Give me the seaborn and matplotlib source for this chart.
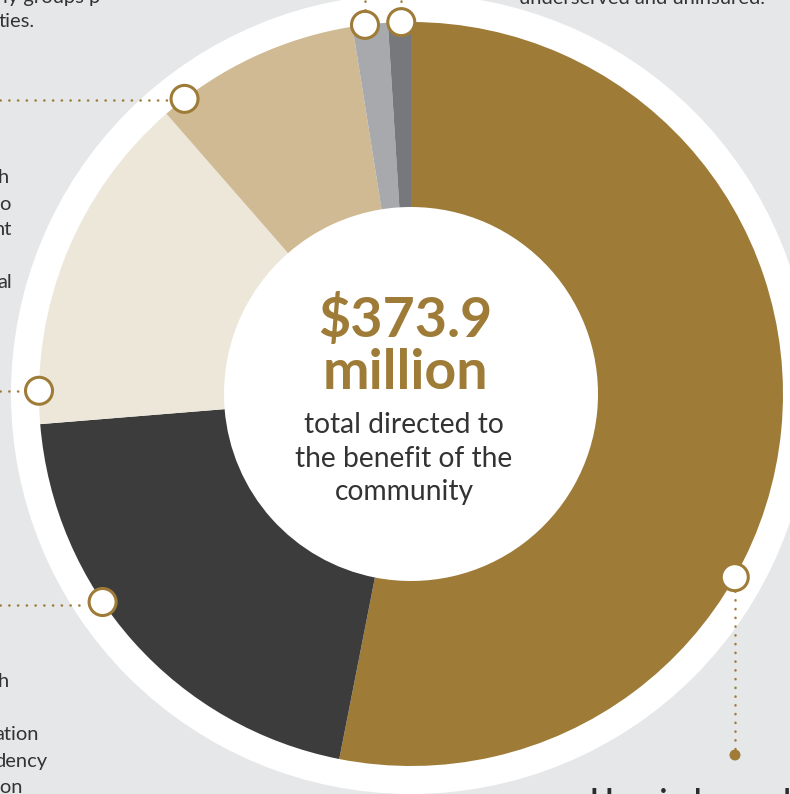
import numpy as np
import pandas as pd
import matplotlib
matplotlib.use("Agg")
import matplotlib.pyplot as plt
from matplotlib.patches import Circle
import seaborn as sns

# community benefit split, $ million (read from the donut, clockwise from 12 o'clock)
categories = ["Unreimbursed Medicaid", "Health professions education", "Community health",
              "Subsidized health services", "Research", "Cash and in-kind"]
amounts = [198.5, 77.1, 55.6, 33.3, 5.7, 3.7]
total_label = "$373.9"
colors = ["#9e7c38", "#3c3c3c", "#ede7da", "#cfba93", "#a8a9ad", "#77787c"]

# marker angles on the rim (degrees clockwise from top), one per slice
marker_angles = [119.5, 236, 270.5, 322.5, 352.9, 358.5]

df = pd.DataFrame({"category": categories, "amount": amounts, "color": colors})

sns.set_theme(style="white")
plt.rcParams["font.family"] = ["Lato", "DejaVu Sans"]

BG = "#e6e7e9"
GOLD = "#9e7c38"
TXT = "#333333"

fig = plt.figure(figsize=(7.9, 7.94), dpi=100, facecolor=BG)
ax = fig.add_axes([0, 0, 1, 1])
ax.set_facecolor(BG)

cx, cy = 411, 394
r_out, r_in, r_white = 372, 187, 400

ax.add_patch(Circle((cx, cy), r_white, facecolor="white", edgecolor="none", zorder=0))
ax.pie(df["amount"], colors=df["color"], center=(cx, cy), radius=r_out,
       startangle=-90, counterclock=True,
       wedgeprops=dict(width=r_out - r_in, edgecolor="none", linewidth=0))

# dotted leader lines
dot = dict(color=GOLD, lw=1.8, linestyle=(0, (0.1, 3.4)), dash_capstyle="round", zorder=3)
ax.plot([0, 171], [100, 100], **dot)
ax.plot([0, 20], [391, 391], **dot)
ax.plot([0, 84], [605, 605], **dot)
ax.plot([735, 735], [591, 755], **dot)
ax.plot([365, 365], [10, -5], **dot)
ax.plot([401, 401], [10, -5], **dot)
ax.add_patch(Circle((735, 755), 5.5, facecolor=GOLD, edgecolor="none", zorder=4))

for a in marker_angles:
    t = np.deg2rad(a - 90)
    ax.add_patch(Circle((cx + r_out * np.cos(t), cy + r_out * np.sin(t)), 13.5,
                        facecolor="white", edgecolor=GOLD, lw=2.2, zorder=5))

# centre text
ax.text(405, 337, total_label, ha="center", va="baseline", fontsize=40,
        fontweight="bold", color=GOLD)
ax.text(405, 389, "million", ha="center", va="baseline", fontsize=40,
        fontweight="bold", color=GOLD)
for y, s in zip([433, 467, 500], ["total directed to", "the benefit of the", "community"]):
    ax.text(404, y, s, ha="center", va="baseline", fontsize=20.3, color=TXT)

# surrounding copy (cropped at the edges)
side = dict(ha="right", va="baseline", fontsize=14.5, color=TXT)
ax.text(35, 27, "ties.", **side)
ax.text(100, 3, "ly groups p", **side)
for y, s, x in [(183, "h", 9), (210, "o", 10), (235, "nt", 12), (288, "al", 12),
                (687, "h", 9), (740, "ation", 39), (767, "dency", 47), (793, "ion", 23)]:
    ax.text(x, y, s, **side)
ax.text(765, 4, "underserved and uninsured.", **side)
ax.text(589, 812, "Unreimbursed", ha="left", va="baseline", fontsize=23,
        fontweight="semibold", color="#2b2b2b")

ax.set_xlim(0, 790)
ax.set_ylim(794, 0)
ax.set_aspect("equal")
ax.axis("off")

fig.savefig("out.png", dpi=100, facecolor=BG)
